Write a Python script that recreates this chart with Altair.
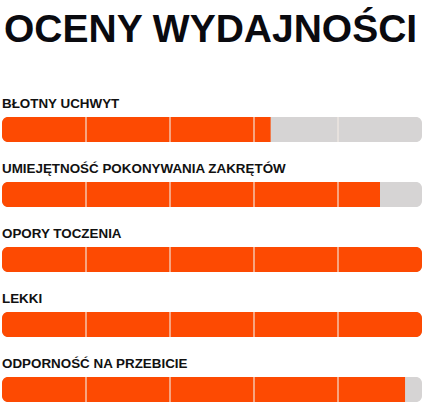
import altair as alt
import pandas as pd

categories = [
    "BŁOTNY UCHWYT",
    "UMIEJĘTNOŚĆ POKONYWANIA ZAKRĘTÓW",
    "OPORY TOCZENIA",
    "LEKKI",
    "ODPORNOŚĆ NA PRZEBICIE",
]
scores = [3.2, 4.5, 5.0, 5.0, 4.8]
max_score = 5
dividers = [1, 2, 3, 4]

df = pd.DataFrame({"cat": categories, "score": scores, "max": [max_score] * len(categories)})
div_df = pd.DataFrame([{"cat": c, "x": d} for c in categories for d in dividers])

ORANGE = "#fd4a02"
GREY = "#d6d4d4"

xs = alt.Scale(domain=[0, max_score], nice=False, zero=True)
ys = alt.Y("cat:N", sort=categories, scale=alt.Scale(paddingInner=0, paddingOuter=0), axis=None)

BAR_H = 25
OFF = 17

track = alt.Chart(df).mark_bar(color=GREY, cornerRadius=6, size=BAR_H, yOffset=OFF).encode(
    x=alt.X("max:Q", scale=xs, axis=None), y=ys
)
partial = alt.Chart(df).transform_filter("datum.score < 5").mark_bar(
    color=ORANGE, cornerRadiusTopLeft=6, cornerRadiusBottomLeft=6, size=BAR_H, yOffset=OFF
).encode(x=alt.X("score:Q", scale=xs, axis=None), y=ys)
full = alt.Chart(df).transform_filter("datum.score >= 5").mark_bar(
    color=ORANGE, cornerRadius=6, size=BAR_H, yOffset=OFF
).encode(x=alt.X("score:Q", scale=xs, axis=None), y=ys)
divs = alt.Chart(div_df).mark_tick(color="#f4ebe4", thickness=1.6, size=BAR_H, yOffset=OFF).encode(
    x=alt.X("x:Q", scale=xs, axis=None), y=ys
)
labels = alt.Chart(df).mark_text(
    align="left", baseline="alphabetic", dy=-5, fontSize=13.4, fontWeight="bold",
    font="Liberation Sans", color="#111111"
).encode(x=alt.value(0), y=ys, text="cat:N")

chart = alt.layer(track, partial, full, divs, labels).properties(
    width=420,
    height=325,
    autosize=alt.AutoSizeParams(type="none"),
    padding={"left": 2, "top": 80, "right": 9, "bottom": 3},
    title=alt.TitleParams(
        "OCENY WYDAJNOŚCI", anchor="start", fontSize=39, font="Liberation Sans",
        fontWeight="bold", color="#0a0a0f", baseline="alphabetic", offset=-1, dx=2
    ),
).configure_view(stroke=None)

chart.save("out.html", embed_options={"renderer": "svg", "actions": False})
